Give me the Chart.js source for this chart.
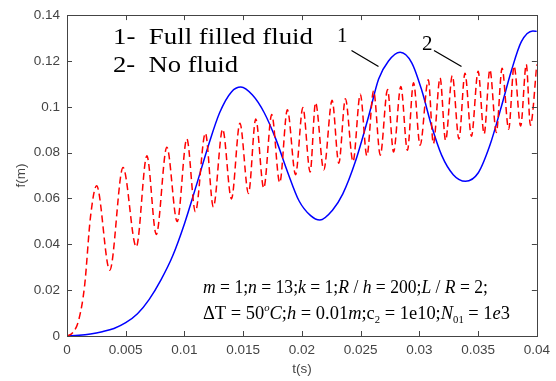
<!DOCTYPE html>
<html>
<head>
<meta charset="utf-8">
<script src="https://cdn.jsdelivr.net/npm/chart.js@4.4.1/dist/chart.umd.min.js"></script>
<style>
  html, body { margin: 0; padding: 0; background: #fff; }
</style>
</head>
<body>
<canvas id="myChart" width="556" height="381"></canvas>
<script>
// curve 1 - full filled fluid
const tFull = [0, 0.001, 0.002, 0.003, 0.004, 0.005, 0.006, 0.007, 0.008, 0.009,
  0.01, 0.011, 0.012, 0.013, 0.014, 0.0148, 0.01579, 0.01678, 0.01777, 0.01876,
  0.01975, 0.02074, 0.02153, 0.0226, 0.02347, 0.02455, 0.02568, 0.02653, 0.02737, 0.02836,
  0.02935, 0.0302, 0.03104, 0.03189, 0.03288, 0.03392, 0.035, 0.036, 0.03698, 0.03783,
  0.03868, 0.03966, 0.04];
const fFull = [0, 0.0003, 0.0009, 0.0019, 0.0033, 0.0058, 0.0097, 0.016, 0.0245, 0.035,
  0.049, 0.0655, 0.0825, 0.0975, 0.1065, 0.1086, 0.1051, 0.0975, 0.086, 0.0718,
  0.059, 0.0525, 0.0506, 0.0549, 0.0619, 0.0761, 0.0959, 0.1121, 0.12, 0.1238,
  0.1192, 0.1072, 0.0916, 0.0789, 0.0704, 0.0675, 0.0711, 0.0832, 0.1001, 0.1157,
  0.1284, 0.1331, 0.1329];

// curve 2 - no fluid
const tNoFluid = [0, 0.0005, 0.001, 0.0015, 0.002, 0.00252, 0.00364, 0.00477, 0.0059, 0.0068,
  0.0076, 0.0085, 0.00938, 0.0102, 0.01093, 0.01178, 0.01246, 0.01325, 0.014, 0.01472,
  0.01545, 0.01607, 0.01675, 0.01743, 0.01811, 0.01876, 0.01946, 0.02008, 0.0207, 0.02116,
  0.02186, 0.02257, 0.02314, 0.0237, 0.02435, 0.02497, 0.02553, 0.0261, 0.02667, 0.02729,
  0.0278, 0.02842, 0.02898, 0.0295, 0.03006, 0.03076, 0.03119, 0.03176, 0.03223, 0.0328,
  0.03337, 0.03388, 0.03443, 0.035, 0.03551, 0.036, 0.03655, 0.03704, 0.0376, 0.03806,
  0.03862, 0.0391, 0.03945, 0.04];
const fNoFluid = [0, 0.0015, 0.007, 0.022, 0.052, 0.0655, 0.0287, 0.0735, 0.0389, 0.0786,
  0.0443, 0.0824, 0.0499, 0.086, 0.0542, 0.0885, 0.0563, 0.0902, 0.0598, 0.0928,
  0.0622, 0.0947, 0.0645, 0.0966, 0.0669, 0.0987, 0.0704, 0.0997, 0.0715, 0.1018,
  0.0725, 0.1028, 0.0754, 0.1035, 0.0761, 0.1055, 0.0786, 0.107, 0.0789, 0.1075,
  0.0803, 0.1089, 0.081, 0.1105, 0.0832, 0.1118, 0.0839, 0.1126, 0.0853, 0.1136,
  0.086, 0.1146, 0.0871, 0.1155, 0.0881, 0.1162, 0.0888, 0.1168, 0.0902, 0.1178,
  0.0916, 0.1185, 0.0919, 0.1185];

const xTicks = [0, 0.005, 0.01, 0.015, 0.02, 0.025, 0.03, 0.035, 0.04];
const xTickLabels = ['0', '0.005', '0.01', '0.015', '0.02', '0.025', '0.03', '0.035', '0.04'];
const yTicks = [0, 0.02, 0.04, 0.06, 0.08, 0.1, 0.12, 0.14];
const yTickLabels = ['0', '0.02', '0.04', '0.06', '0.08', '0.1', '0.12', '0.14'];

const toPoints = (xs, ys) => xs.map((x, i) => ({ x: x, y: ys[i] }));

const serif = '"Liberation Serif", "Times New Roman", serif';
const sans = 'Arial, "Liberation Sans", sans-serif';

// params text, split into roman / italic / sub / sup pieces
const paramLine1 = [['m', 'i'], [' = 1;', 'r'], ['n', 'i'], [' = 13;', 'r'], ['k', 'i'], [' = 1;', 'r'],
  ['R', 'i'], [' / ', 'r'], ['h', 'i'], [' = 200;', 'r'], ['L', 'i'], [' / ', 'r'], ['R', 'i'], [' = 2;', 'r']];
const paramLine2 = [['\u0394T = 50', 'r'], ['o', 'supi'], ['C', 'i'], [';', 'r'], ['h', 'i'], [' = 0.01', 'r'],
  ['m', 'i'], [';c', 'r'], ['2', 'sub'], [' = 1e10;', 'r'], ['N', 'i'], ['01', 'sub'], [' = 1', 'r'], ['e', 'i'], ['3', 'r']];

function drawRich(ctx, parts, x, y, size, targetW) {
  const fontFor = (st) => {
    const small = st === 'sub' || st === 'supi';
    const it = st === 'i' || st === 'supi';
    return (it ? 'italic ' : '') + (small ? Math.round(size * 0.6) : size) + 'px ' + serif;
  };
  let w = 0;
  parts.forEach(p => { ctx.font = fontFor(p[1]); w += ctx.measureText(p[0]).width; });
  const sx = targetW ? targetW / w : 1;
  ctx.save();
  ctx.translate(x, y);
  ctx.scale(sx, 1);
  let cx = 0;
  parts.forEach(p => {
    ctx.font = fontFor(p[1]);
    let dy = 0;
    if (p[1] === 'sub') dy = size * 0.22;
    if (p[1] === 'supi') dy = -size * 0.4;
    ctx.fillText(p[0], cx, dy);
    cx += ctx.measureText(p[0]).width;
  });
  ctx.restore();
}

const framePlugin = {
  id: 'frame',
  afterDatasetsDraw(chart) {
    const { ctx, chartArea: a, scales } = chart;
    ctx.save();
    ctx.strokeStyle = '#444';
    ctx.lineWidth = 1;
    ctx.strokeRect(Math.round(a.left) + 0.5, Math.round(a.top) + 0.5,
      Math.round(a.right - a.left), Math.round(a.bottom - a.top));
    ctx.beginPath();
    xTicks.forEach(v => {
      const px = Math.round(scales.x.getPixelForValue(v)) + 0.5;
      ctx.moveTo(px, a.bottom); ctx.lineTo(px, a.bottom - 5);
      ctx.moveTo(px, a.top); ctx.lineTo(px, a.top + 5);
    });
    yTicks.forEach(v => {
      const py = Math.round(scales.y.getPixelForValue(v)) + 0.5;
      ctx.moveTo(a.left, py); ctx.lineTo(a.left + 5, py);
      ctx.moveTo(a.right, py); ctx.lineTo(a.right - 5, py);
    });
    ctx.stroke();
    ctx.restore();
  },
  afterDraw(chart) {
    const { ctx, chartArea: a } = chart;
    ctx.save();
    ctx.fillStyle = '#000';
    ctx.textBaseline = 'alphabetic';
    drawRich(ctx, [['1-  Full filled fluid', 'r']], a.left + 46, 44, 24, 200);
    drawRich(ctx, [['2-  No fluid', 'r']], a.left + 46, 72, 24, 125);
    ctx.font = '21px ' + serif;
    ctx.fillText('1', 337, 42);
    ctx.fillText('2', 422, 50);
    ctx.strokeStyle = '#000';
    ctx.lineWidth = 1.3;
    ctx.beginPath();
    ctx.moveTo(351.5, 50.5); ctx.lineTo(378.5, 66.5);
    ctx.moveTo(434, 50.5); ctx.lineTo(461.5, 66.5);
    ctx.stroke();
    drawRich(ctx, paramLine1, 203, 293, 19, 285);
    drawRich(ctx, paramLine2, 203, 319, 19, 307);
    ctx.restore();
  }
};

const ctx = document.getElementById('myChart').getContext('2d');
const myChart = new Chart(ctx, {
  type: 'line',
  data: {
    datasets: [{
      label: 'No fluid',
      data: toPoints(tNoFluid, fNoFluid),
      borderColor: '#ff0000',
      borderWidth: 1.5,
      borderDash: [7, 4],
      pointRadius: 0,
      cubicInterpolationMode: 'monotone',
      fill: false
    }, {
      label: 'Full filled fluid',
      data: toPoints(tFull, fFull),
      borderColor: '#0000ff',
      borderWidth: 1.5,
      pointRadius: 0,
      cubicInterpolationMode: 'monotone',
      fill: false
    }]
  },
  options: {
    responsive: false,
    devicePixelRatio: 1,
    animation: false,
    layout: { padding: { top: 6, right: 17, left: 0, bottom: 0 } },
    plugins: { legend: { display: false }, tooltip: { enabled: false } },
    scales: {
      x: {
        type: 'linear',
        min: 0,
        max: 0.04,
        grid: { display: false, drawTicks: false },
        border: { display: false },
        afterBuildTicks: (s) => { s.ticks = xTicks.map(v => ({ value: v })); },
        afterFit: (s) => { s.height = 45; },
        ticks: {
          padding: 6,
          maxRotation: 0,
          autoSkip: false,
          color: '#444',
          font: { family: sans, size: 13.5 },
          callback: (v, i) => xTickLabels[i]
        },
        title: {
          display: true,
          text: 't(s)',
          color: '#444',
          font: { family: sans, size: 13.5 },
          padding: { top: 0, bottom: 4 }
        }
      },
      y: {
        min: 0,
        max: 0.14,
        grid: { display: false, drawTicks: false },
        border: { display: false },
        afterBuildTicks: (s) => { s.ticks = yTicks.map(v => ({ value: v })); },
        afterFit: (s) => { s.width = 67; },
        ticks: {
          padding: 7,
          autoSkip: false,
          color: '#444',
          font: { family: sans, size: 13.5 },
          callback: (v, i) => yTickLabels[i]
        },
        title: {
          display: true,
          text: 'f(m)',
          color: '#444',
          font: { family: sans, size: 13.5 },
          padding: { top: 13, bottom: 0 }
        }
      }
    }
  },
  plugins: [framePlugin]
});
</script>
</body>
</html>
